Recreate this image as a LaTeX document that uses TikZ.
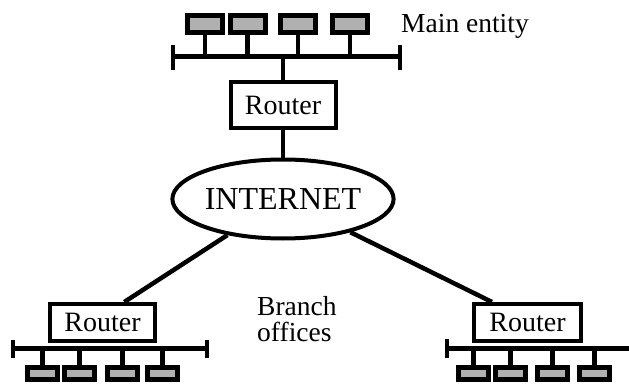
\documentclass[tikz,border=0pt]{standalone}
\usepackage{fontspec}
\setmainfont{Liberation Serif}
\usetikzlibrary{shapes.geometric,calc}

\definecolor{pcgray}{RGB}{176,176,176}
\tikzset{
  router/.style={draw, line width=4pt, minimum height=37pt, inner sep=0pt,
    font=\fontsize{28}{30}\selectfont},
  pc/.style={draw, line width=5pt, fill=pcgray, inner sep=0pt},
  bus/.style={line width=5pt},
  link/.style={line width=4.5pt},
  txt/.style={font=\fontsize{27.5}{26}\selectfont, inner sep=0pt},
}

\begin{document}
\begin{tikzpicture}[x=1pt,y=-1pt]
\useasboundingbox (0,0) rectangle (629,385);

% Seu principal
\node[router, minimum width=105pt, minimum height=46pt] (r0) at (283,105) {Router};
\node[ellipse, draw, line width=4pt, minimum width=196pt, minimum height=79pt,
  inner sep=0pt, font=\fontsize{32}{34}\selectfont] (inet) at (283,199) {INTERNET};

\coordinate (b0l) at (173,57);
\coordinate (b0r) at (400,57);
\draw [bus] (b0l) -- (b0r);
\draw [line width=4pt] (173,45) -- (173,70);
\draw [line width=4pt] (400,45) -- (400,70);

\foreach \i/\x in {1/205,2/247.5,3/298,4/350}
{
    \node[pc, minimum width=35pt, minimum height=17pt] (t\i) at (\x,24) {};
    \draw [link] (t\i.south) -- (t\i.south |- b0l);
}
\draw [link] (r0.north) -- (r0.north |- b0l);
\draw [link] (r0) -- (inet);

\node[txt, anchor=base west] (main) at (401,33) {Main entity};

% Sucursals
\node[router, minimum width=105pt] (r1) at (102.5,322.5) {Router};
\node[router, minimum width=107pt] (r2) at (527.5,322.5) {Router};

\draw [link] (inet) -- ($(r1.north)!0.4!(r1.north east)$);
\draw [link] (inet) -- ($(r2.north)!0.64!(r2.north west)$);

\coordinate (b1l) at (13,348);
\coordinate (b1r) at (207,348);
\draw [bus] (b1l) -- (b1r);
\draw [line width=4pt] (13,340) -- (13,358);
\draw [line width=4pt] (207,340) -- (207,358);

\coordinate (b2l) at (447,348);
\coordinate (b2r) at (629,348);
\draw [bus] (b2l) -- (b2r);
\draw [line width=4pt] (447,339) -- (447,358);

\foreach \i/\x in {1/42.5,2/79.5,3/122.5,4/162.5}
{
    \node[pc, minimum width=30pt, minimum height=12pt] (l\i) at (\x,373) {};
    \draw [link] (l\i.north) -- (l\i.north |- b1l);
}
\foreach \i/\x in {1/473.5,2/510.5,3/552.5,4/594.5}
{
    \node[pc, minimum width=30pt, minimum height=12pt] (d\i) at (\x,373) {};
    \draw [link] (d\i.north) -- (d\i.north |- b2l);
}

\node[txt, anchor=base west, align=left] (branch) at (257,341) {Branch\\offices};

\end{tikzpicture}
\end{document}
